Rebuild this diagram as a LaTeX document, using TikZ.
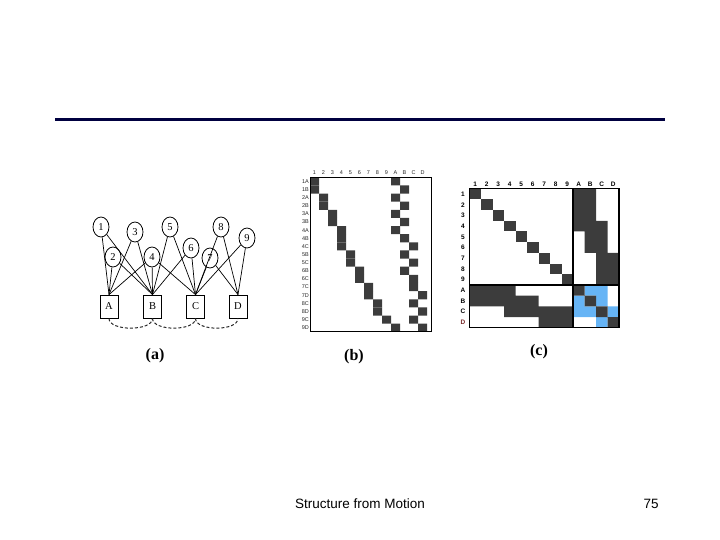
\documentclass[tikz,border=0pt]{standalone}
\usepackage{fontspec}
\setmainfont{Liberation Serif}
\setsansfont{Liberation Sans}
\usetikzlibrary{shapes.geometric}
\definecolor{navy}{RGB}{0,0,64}
\definecolor{cell}{RGB}{60,60,60}
\definecolor{skyblue}{RGB}{102,180,245}
\definecolor{rowred}{RGB}{120,40,40}
\tikzset{
  point/.style={draw,ellipse,line width=0.8pt,minimum width=16,minimum height=20,inner sep=0pt,font=\fontsize{10.5}{10.5}\selectfont},
  camera/.style={draw,rectangle,line width=0.8pt,minimum width=18,minimum height=23,inner sep=0pt,font=\fontsize{10.5}{10.5}\selectfont},
  link/.style={line width=0.7pt},
  loop/.style={dashed,line width=1pt,dash pattern=on 3pt off 2pt,black!85},
  tinylab/.style={font=\sffamily\fontsize{5.5}{5.5}\selectfont,black!85,inner sep=0pt},
  smalllab/.style={font=\sffamily\bfseries\fontsize{6.5}{6.5}\selectfont,inner sep=0pt},
  caption/.style={font=\bfseries\fontsize{16}{16}\selectfont},
  footer/.style={font=\sffamily\fontsize{13.5}{13.5}\selectfont}
}
\begin{document}
\begin{tikzpicture}[x=1pt,y=-1pt]
\useasboundingbox (0,0) rectangle (720,540);
\draw[navy,line width=3pt] (55,120) -- (665,120);
% (a) points and cameras
\begin{scope}
\node[point] (p1) at (101,227) {1};
\node[point] (p3) at (135,232) {3};
\node[point] (p5) at (170,227) {5};
\node[point] (p8) at (221,227) {8};
\node[point] (p9) at (247,238) {9};
\node[point] (p2) at (113,257) {2};
\node[point] (p4) at (152,257) {4};
\node[point] (p6) at (191,248) {6};
\node[point] (p7) at (210,258) {7};
\node[camera] (camA) at (109,306.5) {A};
\node[camera] (camB) at (152.5,306.5) {B};
\node[camera] (camC) at (195.5,306.5) {C};
\node[camera] (camD) at (238,306.5) {D};
\foreach \p/\c in {1/A,1/B,2/A,2/B,3/A,3/B,4/A,4/B,4/C,5/B,5/C,6/B,6/C,7/C,7/D,8/C,8/D,9/C,9/D}
  \draw[link] (p\p) -- (cam\c.north);
\draw[loop] (camA.south) .. controls +(0,13) and +(0,13) .. (camB.south);
\draw[loop] (camB.south) .. controls +(0,13) and +(0,13) .. (camC.south);
\draw[loop] (camC.south) .. controls +(0,13) and +(0,13) .. (camD.south);
\end{scope}
% (b) measurement matrix
\begin{scope}[shift={(310,177.3)},x=9pt,y=-8.13pt]
\foreach \r/\s/\c/\t in {1/1/10/1A,2/1/11/1B,3/2/10/2A,4/2/11/2B,5/3/10/3A,6/3/11/3B,
    7/4/10/4A,8/4/11/4B,9/4/12/4C,10/5/11/5B,11/5/12/5C,12/6/11/6B,13/6/12/6C,
    14/7/12/7C,15/7/13/7D,16/8/12/8C,17/8/13/8D,18/9/12/9C,19/10/13/9D} {
  \fill[cell] (\s-1,\r-1) rectangle ++(1,1) (\c-1,\r-1) rectangle ++(1,1);
  \node[tinylab,anchor=east] (brow\r) at (-0.1,\r-0.5) {\t};
}
\foreach \t [count=\i] in {1,2,3,4,5,6,7,8,9,A,B,C,D}
  \node[tinylab] (bcol\i) at (\i-0.5,-0.6) {\t};
\draw[line width=0.8pt] (0,0) rectangle (13.45,19);
\end{scope}
% (c) Hessian pattern
\begin{scope}[shift={(469.5,188.7)},x=11.5pt,y=-10.7pt]
\foreach \i in {1,...,9}
  \fill[cell] (\i-1,\i-1) rectangle ++(1,1);
\fill[skyblue] (10,9) rectangle (12,10) (9,10) rectangle (10,11) (11,10) rectangle (12,11)
  (9,11) rectangle (11,12) (12,11) rectangle (13,12) (11,12) rectangle (12,13);
\fill[cell] (9,0) rectangle (10,4) (10,0) rectangle (11,6) (11,3) rectangle (12,9) (12,6) rectangle (13,9)
  (0,9) rectangle (4,10) (0,10) rectangle (6,11) (3,11) rectangle (9,12) (6,12) rectangle (9,13)
  (9,9) rectangle ++(1,1) (10,10) rectangle ++(1,1) (11,11) rectangle ++(1,1) (12,12) rectangle ++(1,1);
\draw[line width=1.2pt] (0,0) rectangle (13,13) (9,0) -- (9,13) (0,9) -- (13,9);
\foreach \t [count=\i] in {1,2,3,4,5,6,7,8,9,A,B,C,D} {
  \node[smalllab] (ccol\i) at (\i-0.5,-0.4) {\t};
}
\foreach \t [count=\i] in {1,2,3,4,5,6,7,8,9,A,B,C}
  \node[smalllab] (crow\i) at (-0.57,\i-0.5) {\t};
\node[smalllab,rowred] (crow13) at (-0.57,12.5) {D};
\end{scope}
\node[caption] (capa) at (155,356) {(a)};
\node[caption] (capb) at (354,357) {(b)};
\node[caption] (capc) at (539,352) {(c)};
\node[footer] (title) at (360,504) {Structure from Motion};
\node[footer] (page) at (651,504) {75};
\end{tikzpicture}
\end{document}
